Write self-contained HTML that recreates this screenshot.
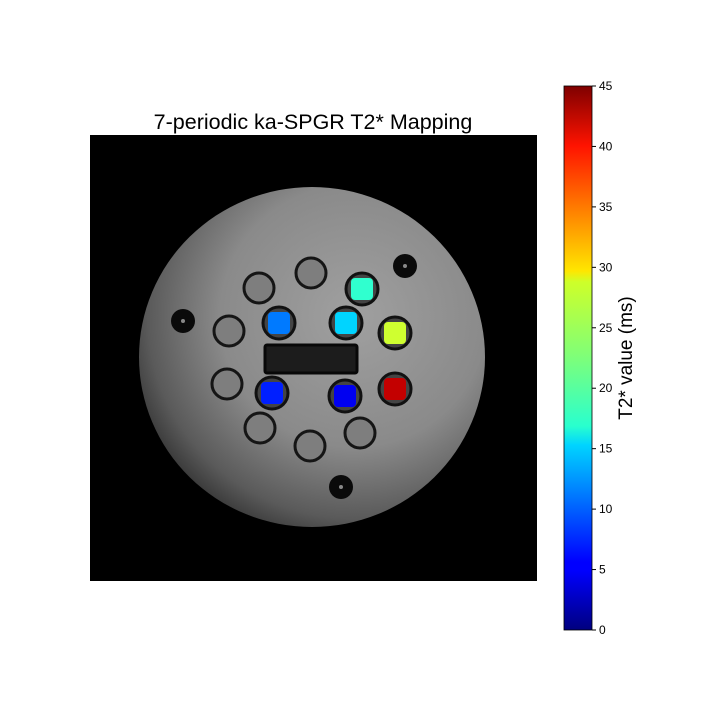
<!DOCTYPE html>
<html><head><meta charset="utf-8"><style>
body{margin:0;background:#fff;width:720px;height:720px;overflow:hidden;font-family:"Liberation Sans",sans-serif}
</style></head><body>
<svg width="720" height="720" xmlns="http://www.w3.org/2000/svg">
<defs>
<radialGradient id="ph" cx="0.62" cy="0.38" r="0.7">
<stop offset="0" stop-color="#a0a0a0"/><stop offset="0.55" stop-color="#8a8a8a"/><stop offset="0.85" stop-color="#5a5a5a"/><stop offset="1" stop-color="#303030"/>
</radialGradient>
<linearGradient id="cb" x1="0" y1="1" x2="0" y2="0">
<stop offset="0" stop-color="#00007f"/><stop offset="0.11" stop-color="#0000ff"/><stop offset="0.125" stop-color="#0000ff"/><stop offset="0.34" stop-color="#00d4ff"/><stop offset="0.375" stop-color="#29ffce"/><stop offset="0.5" stop-color="#7dff7a"/><stop offset="0.64" stop-color="#ceff29"/><stop offset="0.66" stop-color="#ffe600"/><stop offset="0.89" stop-color="#ff1300"/><stop offset="1" stop-color="#7f0000"/>
</linearGradient>
</defs>
<text x="313" y="129" font-size="21.5" text-anchor="middle">7-periodic ka-SPGR T2* Mapping</text>
<rect x="90" y="135" width="447" height="446" fill="#000"/>
<ellipse cx="312" cy="357" rx="173" ry="170" fill="url(#ph)"/>
<rect x="265" y="345" width="92" height="28" rx="2" fill="#1c1c1c" stroke="#080808" stroke-width="3"/>
<g id="vials"></g>
<rect x="564" y="86" width="28" height="544" fill="url(#cb)" stroke="#000" stroke-width="0.8"/>
<g id="ticks"></g>
<text transform="translate(632,358) rotate(-90)" font-size="19" text-anchor="middle">T2* value (ms)</text>
</svg>
<script>
const grayVialX=[259,311,229,227,260,310,360];
const grayVialY=[288,273,331,384,428,446,433];
const mapVialX=[362,279,346,395,272,345,395];
const mapVialY=[289,323,323,333,393,396,389];
const mapValues=[19,11,15,26,7,5,42];
const dotX=[405,183,341];
const dotY=[266,321,487];
const tickValues=[0,5,10,15,20,25,30,35,40,45];
const vmin=0,vmax=45,cbTop=86,cbBot=630;
function yScale(v){return cbBot-(v-vmin)/(vmax-vmin)*(cbBot-cbTop);}
function jet(t){const c=x=>Math.round(255*Math.max(0,Math.min(1,x)));
return `rgb(${c(1.5-Math.abs(4*t-3))},${c(1.5-Math.abs(4*t-2))},${c(1.5-Math.abs(4*t-1))})`;}
const NS="http://www.w3.org/2000/svg";
const g=document.getElementById('vials');
function mk(t,a){const e=document.createElementNS(NS,t);for(const k in a)e.setAttribute(k,a[k]);return e;}
for(let i=0;i<grayVialX.length;i++){
 const e=mk('circle',{cx:grayVialX[i],cy:grayVialY[i],r:15,fill:'#7e7e7e',stroke:'#151515','stroke-width':3});
 
 
 g.appendChild(e);}
for(let i=0;i<dotX.length;i++){
 const e=mk('circle',{cx:dotX[i],cy:dotY[i],r:12,fill:'#0a0a0a'});
 
 
 g.appendChild(e);
 const d=mk('circle',{cx:dotX[i],cy:dotY[i],r:2,fill:'#888'});
 
 
 g.appendChild(d);}
for(let i=0;i<mapVialX.length;i++){
 const o=mk('circle',{cx:mapVialX[i],cy:mapVialY[i],r:16,fill:'#444',stroke:'#111','stroke-width':3});
 
 
 g.appendChild(o);
 const s=mk('rect',{x:mapVialX[i]-11,y:mapVialY[i]-11,width:22,height:22,rx:4,fill:jet((mapValues[i]-vmin)/(vmax-vmin))});
 
 
 g.appendChild(s);}
const tg=document.getElementById('ticks');
tickValues.forEach(v=>{const y=yScale(v);
 const l=mk('line',{x1:592,x2:596,y1:y,y2:y,stroke:'#000','stroke-width':1});
 
 
 tg.appendChild(l);
 const t=mk('text',{x:599,y:y+4,'font-size':12});
 t.textContent=v;
 
 
 tg.appendChild(t);});
</script>
</body></html>
